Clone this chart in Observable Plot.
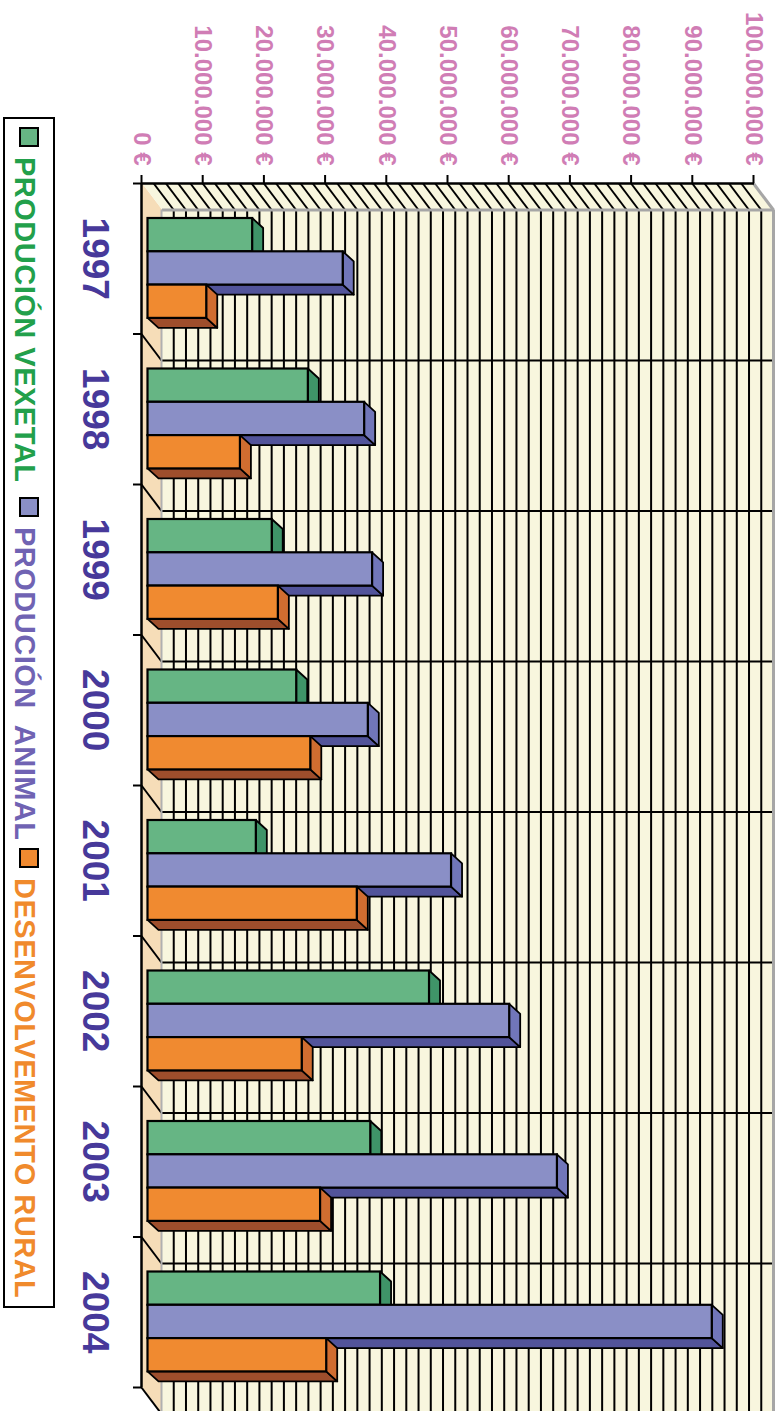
<!DOCTYPE html>
<html><head><meta charset="utf-8">
<script src="https://cdn.jsdelivr.net/npm/d3@7"></script>
<script src="https://cdn.jsdelivr.net/npm/@observablehq/plot@0.6"></script>
<style>
html,body{margin:0;padding:0;background:#fff;overflow:hidden;width:781px;height:1411px}
#wrap{position:absolute;left:0;top:0;width:1411px;height:781px;transform-origin:0 0;transform:translate(781px,0) rotate(90deg);font-family:"Liberation Sans",Arial,sans-serif;background:#fff}
#legend{position:absolute;left:117px;top:726px;width:1191px;height:52px;box-sizing:border-box;border:2px solid #000;background:#fff}
.sw{position:absolute;top:13.7px;width:20px;height:20px;box-sizing:border-box;border:2px solid #000}
.lt{position:absolute;top:4px;line-height:48px;font-weight:bold;font-size:29px;letter-spacing:0.5px;white-space:pre}
</style></head><body><div id="wrap"><div id="chart"></div><div id="legend"></div></div>
<script>
// ---- data (euros) ----
const years = ["1997","1998","1999","2000","2001","2002","2003","2004"];
const vexetal = [17100000, 26200000, 20300000, 24300000, 17700000, 46000000, 36400000, 38000000];
const animal  = [31900000, 35400000, 36700000, 36000000, 49600000, 59100000, 66900000, 92200000];
const rural   = [ 9600000, 15100000, 21300000, 26600000, 34200000, 25200000, 28200000, 29200000];
const seriesNames = ["PRODUCIÓN VEXETAL", "PRODUCIÓN  ANIMAL", "DESENVOLVEMENTO RURAL"];
const valueTicks = [0, 10000000, 20000000, 30000000, 40000000, 50000000, 60000000, 70000000, 80000000, 90000000, 100000000];
const gridStep = 2000000;
const yMax = 100000000;

// ---- styling ----
const frontCol = ["#66b584", "#8a8fc6", "#f08a30"];
const topCol   = ["#3f9468", "#7176b9", "#d06d30"];
const sideCol  = ["#2f7a52", "#52549a", "#9e4e2c"];
const textCol  = ["#22a04b", "#7063b3", "#f08a2c"];

const W = 1411, H = 722;
const mL = 183, mR = 24, mT = 27, mB = 83;
const nCat = years.length;
const pxX = (W - mL - mR) / nCat;          // px per category unit
const pxY = (H - mT - mB) / yMax;          // px per euro
const wallDXu = 26.5 / pxX, wallDYv = 20 / pxY;
const barDXu = 10 / pxX,  barDYv = 11 / pxY;
const gs = 35 / pxX, bw = 33.3 / pxX;
const barShift = -5.5;

const loc = d3.formatLocale({decimal: ",", thousands: ".", grouping: [3], currency: ["", "€"]});
const fmt = v => loc.format(",")(v) + " €";

const gridVals = d3.range(gridStep, yMax, gridStep);
const cats = d3.range(0, nCat + 1);

const marks = [];
// walls
marks.push(Plot.areaX([{y: 0, x1: 0, x2: nCat}, {y: wallDYv, x1: wallDXu, x2: nCat + wallDXu}], {y: "y", x1: "x1", x2: "x2", fill: "#f6ddb8"}));
marks.push(Plot.areaY([{x: 0, y1: 0, y2: yMax}, {x: wallDXu, y1: wallDYv, y2: yMax + wallDYv}], {x: "x", y1: "y1", y2: "y2", fill: "#f8f6de"}));
marks.push(Plot.rect([{}], {x1: wallDXu, x2: nCat + wallDXu, y1: wallDYv, y2: yMax + wallDYv, fill: "#f8f6de"}));
// grid
marks.push(Plot.ruleY(gridVals, {y: d => d + wallDYv, x1: wallDXu, x2: nCat + wallDXu, stroke: "#000", strokeWidth: 2}));
marks.push(Plot.ruleX(cats.slice(1, nCat), {x: d => d + wallDXu, y1: wallDYv, y2: yMax + wallDYv, stroke: "#000", strokeWidth: 2}));
marks.push(Plot.link(gridVals, {x1: 0, y1: d => d, x2: wallDXu, y2: d => d + wallDYv, stroke: "#000", strokeWidth: 2}));
marks.push(Plot.link(cats.slice(1), {x1: d => d, y1: 0, x2: d => d + wallDXu, y2: wallDYv, stroke: "#000", strokeWidth: 2}));
// gray wall edges
marks.push(Plot.ruleY([yMax + wallDYv], {y: d => d, x1: wallDXu, x2: nCat + wallDXu, stroke: "#a6a6a6", strokeWidth: 3}));
marks.push(Plot.ruleX([wallDXu], {x: d => d, y1: wallDYv, y2: yMax + wallDYv, stroke: "#a6a6a6", strokeWidth: 3}));
marks.push(Plot.ruleY([wallDYv], {y: d => d, x1: wallDXu, x2: nCat + wallDXu, stroke: "#b0b0b0", strokeWidth: 2}));
marks.push(Plot.link([yMax], {x1: 0, y1: d => d, x2: wallDXu, y2: d => d + wallDYv, stroke: "#a6a6a6", strokeWidth: 3}));

// bars
[vexetal, animal, rural].forEach((vals, j) => {
  const rows = vals.map((v, i) => ({i, v, x1: i + gs + j * bw, x2: i + gs + (j + 1) * bw}));
  const side = rows.flatMap(r => [
    {id: r.i, x: r.x2, y1: 0, y2: r.v},
    {id: r.i, x: r.x2 + barDXu, y1: barDYv, y2: r.v + barDYv}
  ]);
  const top = rows.flatMap(r => [
    {id: r.i, y: r.v, x1: r.x1, x2: r.x2},
    {id: r.i, y: r.v + barDYv, x1: r.x1 + barDXu, x2: r.x2 + barDXu}
  ]);
  marks.push(Plot.areaY(side, {x: "x", y1: "y1", y2: "y2", z: "id", fill: sideCol[j], stroke: "#000", strokeWidth: 1.8, dy: barShift}));
  marks.push(Plot.areaX(top, {y: "y", x1: "x1", x2: "x2", z: "id", fill: topCol[j], stroke: "#000", strokeWidth: 1.8, dy: barShift}));
  marks.push(Plot.rect(rows, {x1: "x1", x2: "x2", y1: 0, y2: "v", fill: frontCol[j], stroke: "#000", strokeWidth: 2.2, dy: barShift}));
});

// front axes
marks.push(Plot.ruleX([0], {x: d => d, y1: 0, y2: yMax, stroke: "#000", strokeWidth: 2.5}));
marks.push(Plot.ruleY([0], {y: d => d, x1: 0, x2: nCat, stroke: "#000", strokeWidth: 2.5}));
marks.push(Plot.axisY(valueTicks, {tickSize: 8, tickPadding: 10, tickFormat: fmt, fontSize: 24, fontWeight: "bold", fill: "#d07db5", stroke: "#000", strokeWidth: 2, label: null}));
marks.push(Plot.axisX(cats, {tickSize: 9, tickFormat: () => "", stroke: "#000", strokeWidth: 2, label: null}));
marks.push(Plot.text(years, {x: (d, i) => i + 0.5, y: 0, dy: 47, text: d => d, fontSize: 37, fontWeight: "bold", fill: "#47399a"}));

const chart = Plot.plot({
  width: W, height: H,
  marginLeft: mL, marginRight: mR, marginTop: mT, marginBottom: mB,
  x: {domain: [0, nCat], axis: null},
  y: {domain: [0, yMax], axis: null},
  style: {fontFamily: "Liberation Sans, Arial, sans-serif", background: "transparent", color: "#000"},
  marks
});
document.getElementById("chart").appendChild(chart);

// legend
const lg = document.getElementById("legend");
const swLeft = [7.7, 378, 729], txLeft = [38, 408, 759];
seriesNames.forEach((name, j) => {
  const sw = document.createElement("div");
  sw.className = "sw"; sw.style.left = swLeft[j] + "px"; sw.style.background = frontCol[j];
  lg.appendChild(sw);
  const t = document.createElement("div");
  t.className = "lt"; t.style.left = txLeft[j] + "px"; t.style.color = textCol[j];
  t.textContent = name;
  lg.appendChild(t);
});
</script></body></html>
